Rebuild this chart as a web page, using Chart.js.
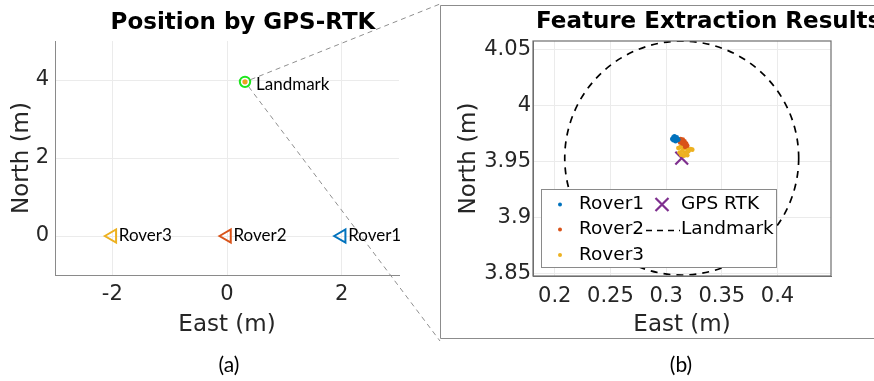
<!DOCTYPE html>
<html>
<head>
<meta charset="utf-8">
<script src="https://cdn.jsdelivr.net/npm/chart.js@4.4.1/dist/chart.umd.min.js"></script>
<style>
	html, body { margin: 0; padding: 0; background: #fff; }
	#wrap { position: relative; width: 874px; height: 381px; overflow: hidden; }
	#wrap canvas { position: absolute; left: 0; top: 0; }
</style>
</head>
<body>
<div id="wrap">
	<canvas id="chart_gps" width="874" height="381" style="width:874px;height:381px"></canvas>
	<canvas id="chart_feat" width="874" height="381" style="width:874px;height:381px"></canvas>
</div>
<script>
// ---- data ----
var roverNames = ['Rover1', 'Rover2', 'Rover3'];
var roverColors = ['#0072BD', '#D95319', '#EDB120'];
var roverEast = [2, 0, -2];
var roverNorth = [0, 0, 0];

var landmarkName = 'Landmark';
var landmarkEast = 0.314;
var landmarkNorth = 3.953;
var landmarkRadius = 0.105;

var gpsTicksX = [-2, 0, 2];
var gpsTicksY = [0, 2, 4];
var featTicksX = [0.2, 0.25, 0.3, 0.35, 0.4];
var featTicksY = [3.85, 3.9, 3.95, 4, 4.05];

var rover1Feat = [
	[0.3055, 3.9700], [0.3065, 3.9715], [0.3075, 3.9725], [0.3080, 3.9700], [0.3090, 3.9705],
	[0.3100, 3.9690], [0.3085, 3.9680], [0.3110, 3.9695], [0.3065, 3.9690], [0.3095, 3.9715]
];
var rover2Feat = [
	[0.3115, 3.9690], [0.3130, 3.9700], [0.3150, 3.9695], [0.3165, 3.9680], [0.3180, 3.9660],
	[0.3190, 3.9640], [0.3170, 3.9630], [0.3145, 3.9660], [0.3125, 3.9670], [0.3160, 3.9655]
];
var rover3Feat = [
	[0.3110, 3.9620], [0.3130, 3.9630], [0.3160, 3.9620], [0.3190, 3.9610], [0.3220, 3.9610],
	[0.3235, 3.9605], [0.3200, 3.9590], [0.3170, 3.9580], [0.3145, 3.9595], [0.3120, 3.9580],
	[0.3135, 3.9560], [0.3160, 3.9550], [0.3190, 3.9555], [0.3180, 3.9570]
];
var gpsRtkName = 'GPS RTK';
var gpsRtkColor = '#7E2F8E';

// ---- helpers ----
Chart.defaults.font.family = 'DejaVu Sans';
Chart.defaults.color = '#262626';

var tickFont = { family: 'DejaVu Sans', size: 21 };
var titleFont = { family: 'DejaVu Sans', size: 23 };

function fmt(v) {
	return String(+Number(v).toFixed(3));
}
function setTicks(list) {
	return function (scale) {
		scale.ticks = list.map(function (v) { return { value: v }; });
	};
}
function toXY(arr) {
	return arr.map(function (p) { return { x: p[0], y: p[1] }; });
}

var textPlugin = {
	id: 'texts',
	afterDraw: function (chart, args, opts) {
		var ctx = chart.ctx;
		(opts.items || []).forEach(function (t) {
			ctx.save();
			ctx.font = t.font;
			ctx.fillStyle = t.color || '#000';
			ctx.textAlign = t.align || 'center';
			ctx.textBaseline = 'middle';
			ctx.fillText(t.text, t.x, t.y);
			ctx.restore();
		});
	}
};

// ---- left: position by GPS-RTK ----
var gpsDatasets = roverNames.map(function (name, i) {
	return {
		label: name,
		data: [{ x: roverEast[i], y: roverNorth[i] }],
		pointStyle: 'triangle',
		rotation: -90,
		radius: 7.5,
		borderWidth: 2,
		borderColor: roverColors[i],
		backgroundColor: 'rgba(0,0,0,0)'
	};
});
gpsDatasets.push({
	label: 'measured',
	data: [{ x: landmarkEast, y: landmarkNorth }],
	pointStyle: 'circle',
	radius: 2.6,
	borderWidth: 0,
	backgroundColor: '#EDA21F'
});
gpsDatasets.push({
	label: landmarkName,
	data: [{ x: landmarkEast, y: landmarkNorth }],
	pointStyle: 'circle',
	radius: 5.2,
	borderWidth: 2,
	borderColor: '#1EE61E',
	backgroundColor: 'rgba(0,0,0,0)'
});

var gpsPlugin = {
	id: 'gpsExtras',
	beforeDatasetsDraw: function (chart) {
		// zoom lines from the landmark to the corners of panel (b)
		var ctx = chart.ctx;
		var pt = chart.getDatasetMeta(4).data[0];
		var corners = [[440, 4], [440, 341]];
		ctx.save();
		ctx.strokeStyle = '#8f8f8f';
		ctx.lineWidth = 1;
		ctx.setLineDash([5, 4]);
		corners.forEach(function (c) {
			var dx = c[0] - pt.x, dy = c[1] - pt.y;
			var d = Math.sqrt(dx * dx + dy * dy);
			ctx.beginPath();
			ctx.moveTo(pt.x + dx / d * 6, pt.y + dy / d * 6);
			ctx.lineTo(c[0], c[1]);
			ctx.stroke();
		});
		ctx.restore();
	},
	afterDatasetsDraw: function (chart) {
		var ctx = chart.ctx;
		ctx.save();
		ctx.font = '17px Lato';
		ctx.fillStyle = '#000';
		ctx.textAlign = 'left';
		ctx.textBaseline = 'middle';
		for (var i = 0; i < roverNames.length; i++) {
			var p = chart.getDatasetMeta(i).data[0];
			ctx.fillText(roverNames[i], p.x + 6.5, p.y);
		}
		var lm = chart.getDatasetMeta(4).data[0];
		ctx.fillText(landmarkName, lm.x + 11, lm.y + 3);
		ctx.restore();
	}
};

var chart_gps = new Chart(
	document.getElementById('chart_gps'),
	{
		type: 'scatter',
		data: { datasets: gpsDatasets },
		options: {
			responsive: false,
			animation: false,
			events: [],
			layout: { padding: { left: 0, right: 475, top: 41, bottom: 0 } },
			scales: {
				x: {
					type: 'linear', min: -3, max: 3,
					afterBuildTicks: setTicks(gpsTicksX),
					afterFit: function (s) { s.height = 106; },
					grid: { color: '#ebebeb', drawTicks: false },
					border: { color: '#8a8a8a' },
					ticks: { font: tickFont, padding: 7, callback: fmt },
					title: { display: true, text: 'East (m)', font: titleFont, padding: { bottom: 42 } }
				},
				y: {
					type: 'linear', min: -1, max: 5,
					afterBuildTicks: setTicks(gpsTicksY),
					afterFit: function (s) { s.width = 55; },
					grid: { color: '#ebebeb', drawTicks: false },
					border: { color: '#8a8a8a' },
					ticks: { font: tickFont, padding: 6, callback: fmt },
					title: { display: true, text: 'North (m)', font: titleFont, padding: { top: 8 } }
				}
			},
			plugins: {
				legend: { display: false },
				tooltip: { enabled: false },
				texts: {
					items: [
						{ text: 'Position by GPS-RTK', x: 243, y: 23, font: 'bold 23px "DejaVu Sans"' },
						{ text: '(a)', x: 229, y: 365, font: '21px Lato' }
					]
				}
			}
		},
		plugins: [gpsPlugin, textPlugin]
	}
);

// ---- right: feature extraction results ----
var featDatasets = [rover1Feat, rover2Feat, rover3Feat].map(function (pts, i) {
	return {
		label: roverNames[i],
		data: toXY(pts),
		pointStyle: 'circle',
		radius: 2.3,
		borderWidth: 0,
		backgroundColor: roverColors[i]
	};
});
featDatasets.push({
	label: gpsRtkName,
	data: [{ x: landmarkEast, y: landmarkNorth }],
	pointStyle: 'crossRot',
	radius: 9,
	borderWidth: 2.2,
	borderColor: gpsRtkColor,
	backgroundColor: gpsRtkColor
});

var featPlugin = {
	id: 'featExtras',
	beforeDraw: function (chart) {
		// outline of panel (b)
		var ctx = chart.ctx;
		ctx.save();
		ctx.strokeStyle = '#8c8c8c';
		ctx.lineWidth = 1;
		ctx.beginPath();
		ctx.moveTo(880, 5.5);
		ctx.lineTo(440.5, 5.5);
		ctx.lineTo(440.5, 338.5);
		ctx.lineTo(880, 338.5);
		ctx.stroke();
		ctx.restore();
	},
	beforeDatasetsDraw: function (chart) {
		var ctx = chart.ctx, a = chart.chartArea;
		var xs = chart.scales.x, ys = chart.scales.y;
		var cx = xs.getPixelForValue(landmarkEast);
		var cy = ys.getPixelForValue(landmarkNorth);
		var r = xs.getPixelForValue(landmarkEast + landmarkRadius) - cx;
		ctx.save();
		ctx.beginPath();
		ctx.rect(a.left, a.top, a.right - a.left, a.bottom - a.top);
		ctx.clip();
		ctx.strokeStyle = '#000';
		ctx.lineWidth = 1.7;
		ctx.setLineDash([7, 6]);
		ctx.beginPath();
		ctx.arc(cx, cy, r, 0, Math.PI * 2);
		ctx.stroke();
		ctx.restore();
	},
	afterDatasetsDraw: function (chart) {
		var ctx = chart.ctx, a = chart.chartArea;
		ctx.save();
		ctx.strokeStyle = '#6e6e6e';
		ctx.lineWidth = 1.2;
		ctx.strokeRect(a.left, a.top, a.right - a.left, a.bottom - a.top);
		ctx.restore();
	},
	afterDraw: function (chart) {
		var ctx = chart.ctx;
		var ds = chart.data.datasets;
		ctx.save();
		ctx.fillStyle = '#fff';
		ctx.fillRect(541, 189.5, 235, 78);
		ctx.strokeStyle = '#8a8a8a';
		ctx.lineWidth = 1;
		ctx.strokeRect(541.5, 189.5, 235, 78);
		var rows = [204.5, 229.5, 255];
		ctx.font = '18.5px "DejaVu Sans"';
		ctx.textAlign = 'left';
		ctx.textBaseline = 'middle';
		for (var i = 0; i < 3; i++) {
			ctx.fillStyle = ds[i].backgroundColor;
			ctx.beginPath();
			ctx.arc(560, rows[i], 2, 0, Math.PI * 2);
			ctx.fill();
			ctx.fillStyle = '#000';
			ctx.fillText(ds[i].label, 579, rows[i]);
		}
		// GPS RTK marker
		ctx.strokeStyle = ds[3].borderColor;
		ctx.lineWidth = 2.2;
		ctx.beginPath();
		ctx.moveTo(655.5, rows[0] - 6.5); ctx.lineTo(668.5, rows[0] + 6.5);
		ctx.moveTo(668.5, rows[0] - 6.5); ctx.lineTo(655.5, rows[0] + 6.5);
		ctx.stroke();
		ctx.fillStyle = '#000';
		ctx.fillText(ds[3].label, 681, rows[0]);
		// Landmark dashed line
		ctx.strokeStyle = '#000';
		ctx.lineWidth = 1.6;
		ctx.setLineDash([6, 5]);
		ctx.beginPath();
		ctx.moveTo(646, rows[1] + 1);
		ctx.lineTo(680, rows[1] + 1);
		ctx.stroke();
		ctx.setLineDash([]);
		ctx.fillText(landmarkName, 681, rows[1]);
		ctx.restore();
	}
};

var chart_feat = new Chart(
	document.getElementById('chart_feat'),
	{
		type: 'scatter',
		data: { datasets: featDatasets },
		options: {
			responsive: false,
			animation: false,
			events: [],
			layout: { padding: { left: 440, right: 43, top: 41, bottom: 0 } },
			scales: {
				x: {
					type: 'linear', min: 0.1805, max: 0.448,
					afterBuildTicks: setTicks(featTicksX),
					afterFit: function (s) { s.height = 105; },
					grid: { color: '#ebebeb', drawTicks: false },
					border: { color: '#6e6e6e' },
					ticks: { font: tickFont, padding: 8, callback: fmt },
					title: { display: true, text: 'East (m)', font: titleFont, padding: { bottom: 42 } }
				},
				y: {
					type: 'linear', min: 3.8475, max: 4.0577,
					afterBuildTicks: setTicks(featTicksY),
					afterFit: function (s) { s.width = 93; },
					grid: { color: '#ebebeb', drawTicks: false },
					border: { color: '#6e6e6e' },
					ticks: { font: tickFont, padding: 2, callback: fmt },
					title: { display: true, text: 'North (m)', font: titleFont, padding: { top: 15 } }
				}
			},
			plugins: {
				legend: { display: false },
				tooltip: { enabled: false },
				texts: {
					items: [
						{ text: 'Feature Extraction Results', x: 536, y: 22, align: 'left', font: 'bold 23px "DejaVu Sans"' },
						{ text: '(b)', x: 681, y: 365, font: '21px Lato' }
					]
				}
			}
		},
		plugins: [featPlugin, textPlugin]
	}
);
</script>
</body>
</html>
